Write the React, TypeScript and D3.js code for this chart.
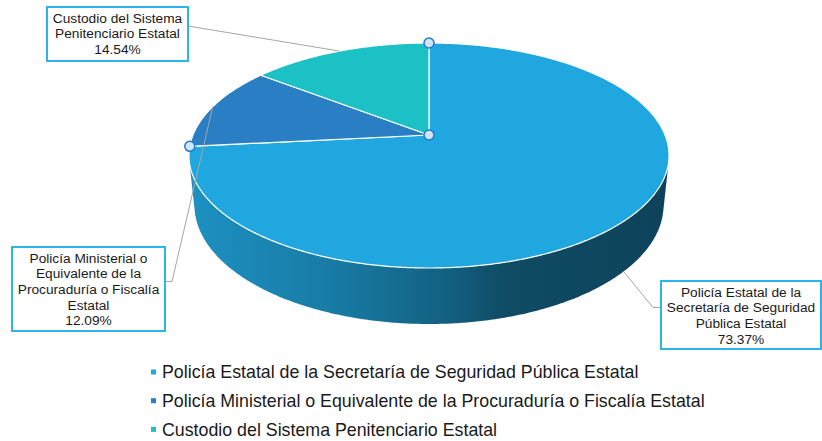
import React from "react";
import * as d3 from "d3";

const categories = [
  "Policía Estatal de la Secretaría de Seguridad Pública Estatal",
  "Policía Ministerial o Equivalente de la Procuraduría o Fiscalía Estatal",
  "Custodio del Sistema Penitenciario Estatal",
];
const values = [73.37, 12.09, 14.54];
const colors = ["#21a7e0", "#2a7fc4", "#1cc1c6"];
const labelLines = [
  ["Policía Estatal de la", "Secretaría de Seguridad", "Pública Estatal"],
  ["Policía Ministerial o", "Equivalente de la", "Procuraduría o Fiscalía", "Estatal"],
  ["Custodio del Sistema", "Penitenciario Estatal"],
];

// 3D perspective parameters
const CX = 429, CY = 135, L = 4.871, F = 1149.6, SA = 0.4609, CA = 0.8875, H = 0.239;

function project(theta: number, r: number, z: number): [number, number] {
  const x = r * Math.sin(theta);
  const y = -r * Math.cos(theta);
  const depth = L - y * CA - z * SA;
  return [CX + (F * x) / depth, CY + ((y * SA - z * CA) * F) / depth];
}

function arcPoints(a0: number, a1: number, z: number): [number, number][] {
  const n = Math.max(2, Math.ceil(Math.abs(a1 - a0) / (Math.PI / 360)));
  return d3.range(n + 1).map((i) => project(a0 + ((a1 - a0) * i) / n, 1, z));
}

const boxes = [
  { x: 661, y: 281, w: 160, h: 68, elbow: [[661, 307.5], [653, 307.5]] },
  { x: 12, y: 247, w: 153, h: 84, elbow: [[165, 281.5], [172, 281.5]] },
  { x: 47, y: 7, w: 141, h: 54, elbow: [[188, 26]] },
];

export default function App() {
  const arcs = d3.pie<number>().sort(null).value((d) => d)(values);
  const line = d3.line();
  const center = project(0, 0, 0);

  const y0 = 1 / (L * CA);
  const tA = Math.acos(-y0);
  const tB = 2 * Math.PI - tA;

  const sides = arcs
    .map((a, i) => {
      const s = Math.max(a.startAngle, tA);
      const e = Math.min(a.endAngle, tB);
      if (e <= s) return null;
      const pts = [...arcPoints(s, e, 0), ...arcPoints(e, s, -H)];
      return { i, d: line(pts)! + "Z" };
    })
    .filter(Boolean) as { i: number; d: string }[];

  const tops = arcs.map((a, i) => {
    const pts = [center, ...arcPoints(a.startAngle, a.endAngle, 0)];
    return { i, d: line(pts)! + "Z" };
  });

  const anchors = arcs.map((a) => {
    const m = (a.startAngle + a.endAngle) / 2;
    return m > tA && m < tB ? project(m, 1, -H) : project(m, 1, 0);
  });

  const xL = project(tB, 1, 0)[0];
  const xR = project(tA, 1, 0)[0];
  const font = "'Liberation Sans', Arial, sans-serif";

  return (
    <svg width={822} height={441} style={{ position: "absolute", left: 0, top: 0 }}>
      <defs>
        {colors.map((c, i) => (
          <linearGradient key={i} id={`side${i}`} gradientUnits="userSpaceOnUse" x1={xL} x2={xR} y1={0} y2={0}>
            <stop offset="0" stopColor={d3.rgb(c).darker(0.4).formatHex()} />
            <stop offset="0.3" stopColor={d3.rgb(c).darker(0.85).formatHex()} />
            <stop offset="0.54" stopColor={d3.rgb(c).darker(1.55).formatHex()} />
            <stop offset="0.66" stopColor={d3.rgb(c).darker(2.25).formatHex()} />
            <stop offset="1" stopColor={d3.rgb(c).darker(2.55).formatHex()} />
          </linearGradient>
        ))}
      </defs>
      <rect x={0} y={0} width={822} height={441} fill="#fff" />
      {sides.map((s) => (
        <path key={"s" + s.i} d={s.d} fill={`url(#side${s.i})`} />
      ))}
      {tops.map((t) => (
        <path key={"t" + t.i} d={t.d} fill={colors[t.i]} stroke="#ffffff" strokeWidth={1.2} strokeLinejoin="round" />
      ))}
      {/* leader lines */}
      {boxes.map((b, i) => (
        <polyline
          key={"l" + i}
          points={[...b.elbow, anchors[i]].map((p) => p.join(",")).join(" ")}
          fill="none"
          stroke="#a6a6a6"
          strokeWidth={1}
        />
      ))}
      {/* selection handles */}
      {[center, project(arcs[0].startAngle, 1, 0), project(arcs[0].endAngle, 1, 0)].map((p, i) => (
        <circle key={"h" + i} cx={p[0]} cy={p[1]} r={5} fill="#cfe6f8" stroke="#1f7ad6" strokeWidth={1.5} />
      ))}
      {/* labels */}
      {boxes.map((b, i) => {
        const lines = [...labelLines[i], values[i].toFixed(2) + "%"];
        return (
          <g key={"b" + i}>
            <rect x={b.x} y={b.y} width={b.w} height={b.h} fill="#fff" stroke="#2db4e8" strokeWidth={2} />
            {lines.map((t, j) => (
              <text
                key={j}
                x={b.x + b.w / 2}
                y={b.y + 15.8 + j * 15.6}
                textAnchor="middle"
                fontFamily={font}
                fontSize={13.7}
                fill="#1a1a1a"
              >
                {t}
              </text>
            ))}
          </g>
        );
      })}
      {/* legend */}
      {categories.map((c, i) => {
        const cy = 372 + i * 28.7;
        return (
          <g key={"lg" + i}>
            <rect x={151} y={cy - 2.5} width={5} height={5} fill={colors[i]} />
            <text x={162} y={cy + 6.3} fontFamily={font} fontSize={17.8} fill="#1a1a1a">
              {c}
            </text>
          </g>
        );
      })}
    </svg>
  );
}
